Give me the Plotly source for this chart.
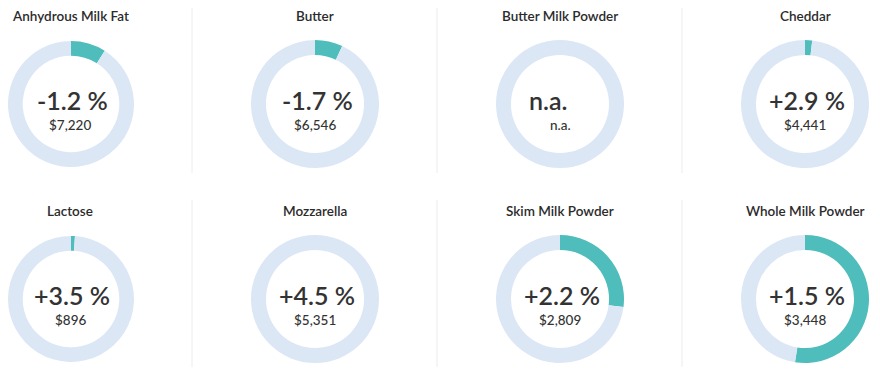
import plotly.graph_objects as go

products = ["Anhydrous Milk Fat", "Butter", "Butter Milk Powder", "Cheddar",
            "Lactose", "Mozzarella", "Skim Milk Powder", "Whole Milk Powder"]
changes = [-1.2, -1.7, None, 2.9, 3.5, 4.5, 2.2, 1.5]
prices = [7220, 6546, None, 4441, 896, 5351, 2809, 3448]
shares = [0.09, 0.07, 0.0, 0.018, 0.01, 0.0, 0.27, 0.525]

# page body has an 8px margin, so figure coords = screen coords - 8
OFF = 8
W, H = 864, 359
col_cx = [70, 315, 560, 805]
row_cy = [104, 299]
row_title_y = [16, 211]
R = 64
divider_x = [192, 437, 682]
row_div = [(6, 173), (200, 367)]

TEAL = "#4fbdbb"
LIGHT = "#dce7f5"
TXT = "#333333"

fig = go.Figure()
ann = []
shapes = []

def clamp(v):
    return min(1.0, max(0.0, v))

def px(x):
    return (x - OFF) / W

def py(y):
    return 1 - (y - OFF) / H

for i, name in enumerate(products):
    r, c = divmod(i, 4)
    cx, cy = col_cx[c], row_cy[r]
    s = shares[i]
    fig.add_trace(go.Pie(
        values=[s, 1 - s],
        marker=dict(colors=[TEAL, LIGHT], line=dict(width=0)),
        hole=0.766, sort=False, direction="clockwise", rotation=0,
        textinfo="none", hoverinfo="skip", showlegend=False,
        domain=dict(x=[clamp(px(cx - R)), clamp(px(cx + R))],
                    y=[clamp(py(cy + R)), clamp(py(cy - R))]),
    ))
    ann.append(dict(x=px(cx), y=py(row_title_y[r]), xref="paper", yref="paper",
                    text=name, showarrow=False, xanchor="center", yanchor="middle",
                    font=dict(family="Lato", size=13.5, color="#2b2b2b", weight=600)))
    ch = changes[i]
    big = "n.a." if ch is None else f"{ch:+.1f} %"
    small = "n.a." if prices[i] is None else f"${prices[i]:,}"
    ann.append(dict(x=px(cx), y=py(cy - 4), xref="paper", yref="paper",
                    text=big, showarrow=False, xanchor="center", yanchor="middle",
                    xshift=-12 if ch is None else 2,
                    font=dict(family="Lato", size=25, color=TXT, weight=600)))
    ann.append(dict(x=px(cx), y=py(cy + 21), xref="paper", yref="paper",
                    text=small, showarrow=False, xanchor="center", yanchor="middle",
                    font=dict(family="Lato", size=13.5, color=TXT, weight=500)))

for r in range(2):
    y0, y1 = row_div[r]
    for x in divider_x:
        shapes.append(dict(type="line", xref="paper", yref="paper",
                           x0=px(x), x1=px(x), y0=py(y0), y1=py(y1),
                           line=dict(color="#ececec", width=1)))

fig.update_layout(width=W, height=H, margin=dict(l=0, r=0, t=0, b=0),
                  paper_bgcolor="white", plot_bgcolor="white",
                  annotations=ann, shapes=shapes)
fig.write_html("out.html")
